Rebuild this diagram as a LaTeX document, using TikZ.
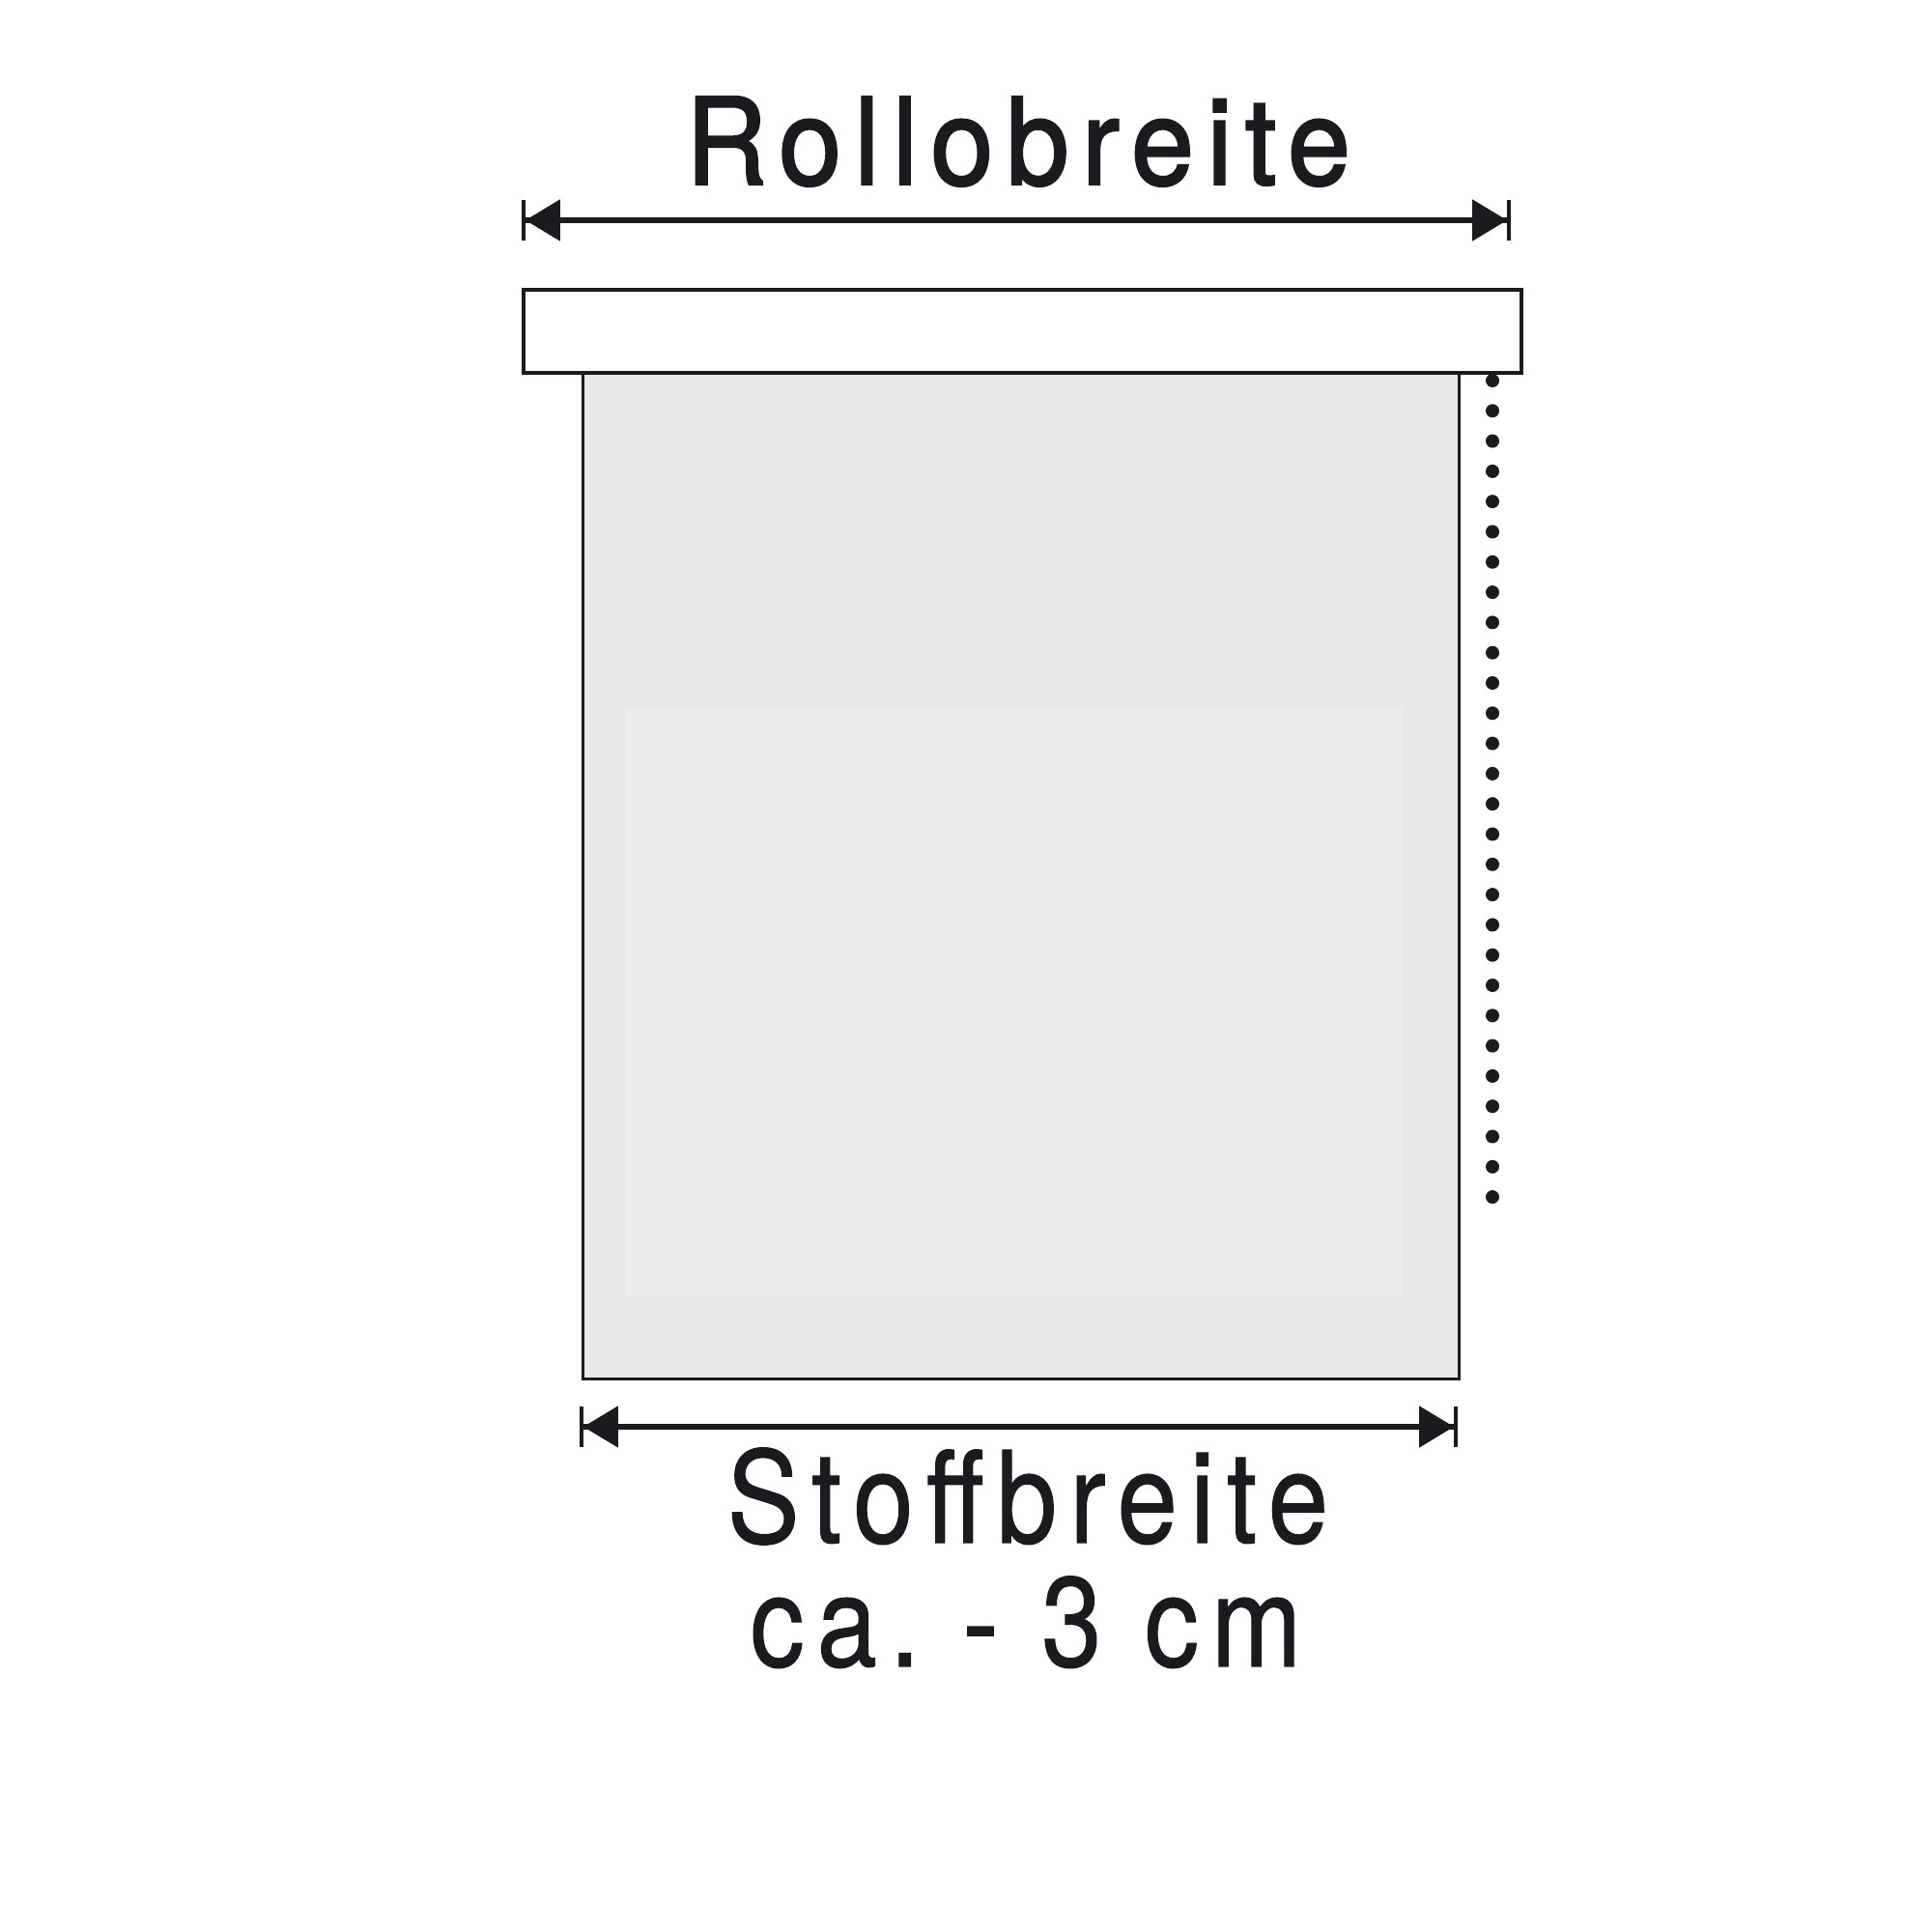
\documentclass[tikz,border=0pt]{standalone}
\usepackage{fontspec}
\setmainfont{TeX Gyre Heros}
\newfontfamily\rollfont[FakeStretch=0.93, LetterSpace=11, FakeBold=2]{TeX Gyre Heros}
\newfontfamily\stofffont[FakeStretch=0.85, LetterSpace=10, FakeBold=0.8]{TeX Gyre Heros}
\usepackage{tikz}
\usetikzlibrary{positioning, arrows.meta}
\definecolor{inkblack}{HTML}{1B1A1F}
\definecolor{fabricgray}{HTML}{E9E9EC}
\definecolor{fabriclight}{HTML}{EDEDF0}
\tikzstyle{measuretext} = [text=inkblack, inner sep=0pt, anchor=base]
\tikzstyle{measure} = [line width=1.45pt, draw=inkblack, arrows={Bar[width=0.42cm,line width=1.1pt,sep=0pt]Triangle[length=0.36cm,width=0.42cm,sep=0pt]-Triangle[length=0.36cm,width=0.42cm,sep=0pt]Bar[width=0.42cm,line width=1.1pt,sep=0pt]}]
\tikzstyle{panel} = [rectangle, draw=inkblack, inner sep=0pt, anchor=north west]

\begin{document}
\begin{tikzpicture}
    \useasboundingbox (0,0) rectangle (20,20);
    \fill[white] (0,0) rectangle (20,20);
    % Nodes
    \node (fabric) [panel, fill=fabricgray, line width=0.8pt, minimum width=9.07cm, minimum height=11.28cm] at (6.02,17.02) {};
    \fill[fabriclight] (6.48,12.67) rectangle (14.52,6.58);
    \node (roller) [panel, fill=white, line width=1.1pt, minimum width=10.33cm, minimum height=0.86cm] at (5.40,17.02) {};
    \node (rollwidth) [measuretext, font=\rollfont\fontsize{35.5}{36}\selectfont] at (10.54,18.09) {Rollobreite};
    \node (fabricwidth) [measuretext, font=\stofffont\fontsize{37.5}{38}\selectfont] at (10.64,4.03) {Stoffbreite};
    \node (deduction) [measuretext, font=\stofffont\fontsize{37.5}{38}\selectfont\frenchspacing] at (10.62,2.75) {ca. - 3 cm};
    % Dots
    \foreach \i in {0,...,27}
        \fill[inkblack] (15.45,16.06-\i*0.313) circle (0.07);
    % Arrows
    \coordinate (rollleft) at (5.40,17.72);
    \coordinate (rollright) at (15.64,17.72);
    \coordinate (fabricleft) at (6.00,5.23);
    \coordinate (fabricright) at (15.09,5.23);
    \draw [measure] (rollleft) -- (rollright);
    \draw [measure] (fabricleft) -- (fabricright);
\end{tikzpicture}
\end{document}
